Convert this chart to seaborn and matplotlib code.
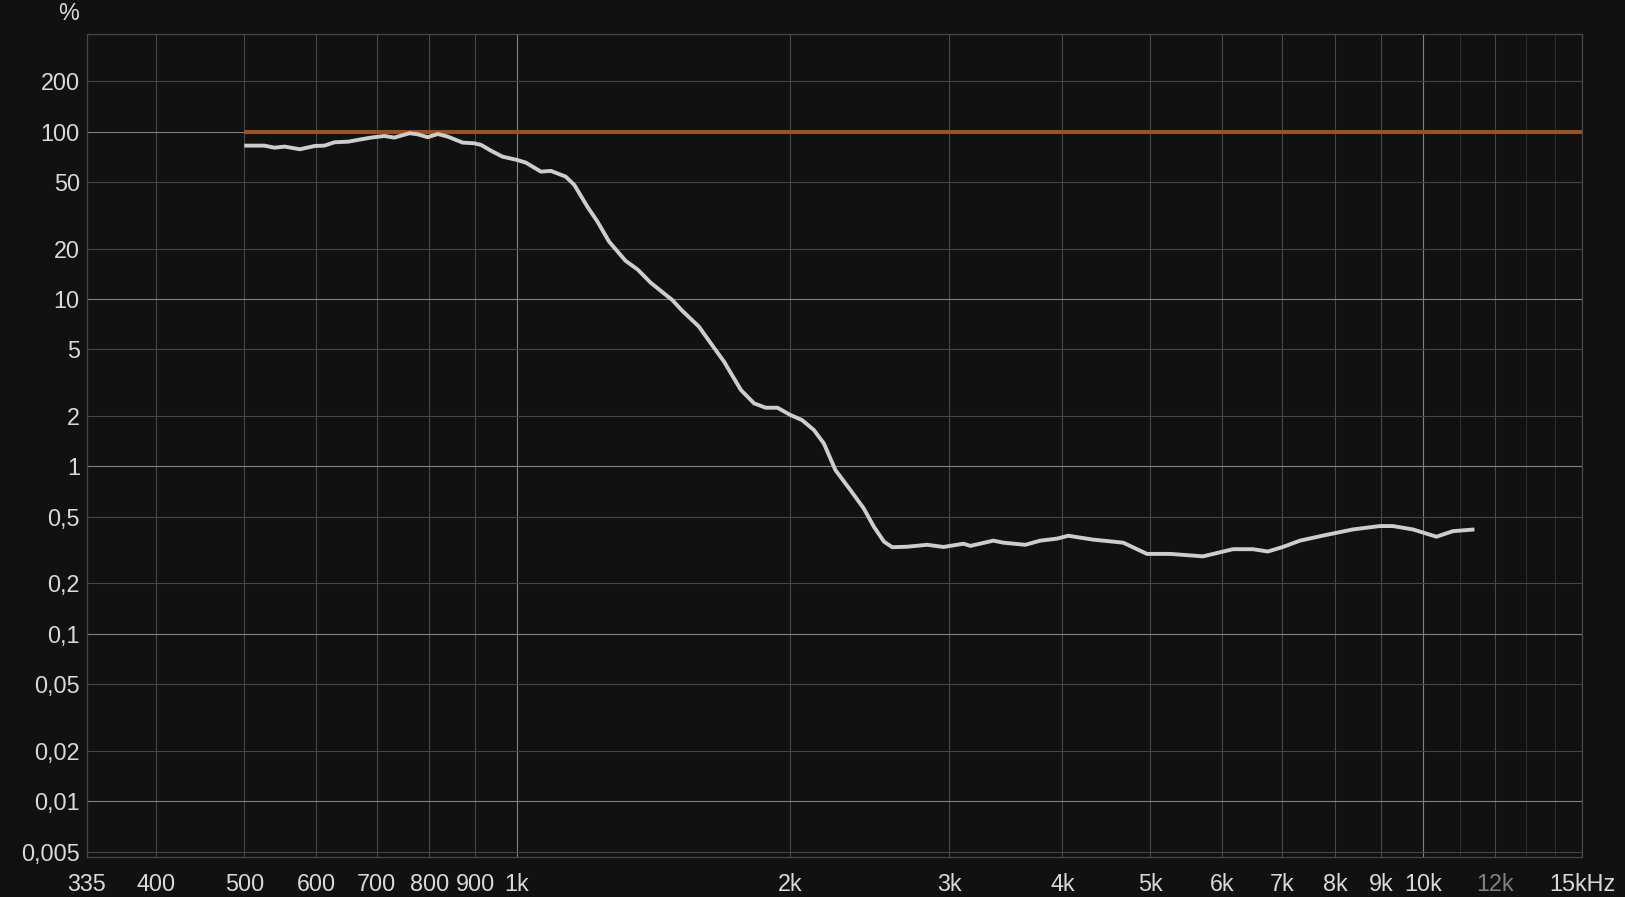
import matplotlib
matplotlib.use("Agg")
import matplotlib.pyplot as plt
from matplotlib.ticker import NullLocator, FixedLocator, NullFormatter
import seaborn as sns
import pandas as pd

# ---- data ----
freq_hz = [500, 526, 540, 554, 576, 598, 613, 629, 651, 667,
           690, 714, 732, 761, 777, 797, 818, 839, 871, 897,
           913, 936, 964, 1000, 1023, 1063, 1090, 1132, 1157, 1196,
           1227, 1264, 1318, 1359, 1405, 1453, 1484, 1522, 1588, 1637,
           1693, 1767, 1827, 1882, 1939, 2003, 2064, 2127, 2182, 2247,
           2334, 2414, 2477, 2542, 2596, 2695, 2837, 2957, 3111, 3167,
           3357, 3443, 3641, 3782, 3946, 4061, 4327, 4670, 4960, 5262,
           5720, 6172, 6494, 6746, 7008, 7318, 7832, 8372, 8966, 9266,
           9750, 10354, 10793, 11403]
percent = [82.4, 82.4, 80.1, 81.3, 78.4, 82.0, 82.4, 86.3, 87.0, 89.1,
           92.0, 94.1, 92.0, 97.7, 96.3, 92.5, 96.7, 93.2, 85.9, 85.1,
           83.2, 76.9, 70.8, 67.7, 65.2, 57.6, 58.2, 53.8, 48.0, 35.6,
           29.0, 22.0, 16.9, 15.0, 12.5, 10.8, 9.86, 8.51, 6.84, 5.43,
           4.22, 2.86, 2.38, 2.24, 2.24, 2.03, 1.89, 1.65, 1.37, 0.95,
           0.722, 0.562, 0.437, 0.355, 0.329, 0.331, 0.34, 0.33, 0.345, 0.335,
           0.36, 0.35, 0.34, 0.36, 0.37, 0.385, 0.365, 0.35, 0.30, 0.30,
           0.29, 0.32, 0.32, 0.31, 0.33, 0.36, 0.39, 0.42, 0.44, 0.44,
           0.42, 0.38, 0.41, 0.42]
ref_freq = [500, 15000]
ref_percent = [100, 100]

x_ticks = [335, 400, 500, 600, 700, 800, 900, 1000, 2000, 3000, 4000, 5000,
           6000, 7000, 8000, 9000, 10000, 12000, 15000]
x_labels = ["335", "400", "500", "600", "700", "800", "900", "1k", "2k", "3k",
            "4k", "5k", "6k", "7k", "8k", "9k", "10k", "12k", "15kHz"]
x_minor = [11000, 13000, 14000]
y_ticks = [0.005, 0.01, 0.02, 0.05, 0.1, 0.2, 0.5, 1, 2, 5, 10, 20, 50, 100, 200]
y_labels = ["0,005", "0,01", "0,02", "0,05", "0,1", "0,2", "0,5", "1", "2", "5",
            "10", "20", "50", "100", "200"]

BG = "#111111"
TXT = "#d9d9d9"
GRID = "#474747"
GRID_BRIGHT = "#828282"
GRID_DIM = "#2c2c2c"

sns.set_theme(style="dark", rc={
    "figure.facecolor": BG, "axes.facecolor": BG, "savefig.facecolor": BG,
    "axes.edgecolor": GRID, "text.color": TXT,
    "xtick.color": TXT, "ytick.color": TXT,
})
plt.rcParams["font.family"] = ["Liberation Sans", "DejaVu Sans"]

fig = plt.figure(figsize=(16.25, 8.97), dpi=100)
ax = fig.add_axes([86.7 / 1625, 1 - 857 / 897, (1582.3 - 86.7) / 1625, (857 - 34.3) / 897])

df = pd.DataFrame({"freq": freq_hz, "pct": percent})
ref = pd.DataFrame({"freq": ref_freq, "pct": ref_percent})
sns.lineplot(data=ref, x="freq", y="pct", ax=ax, color="#9a5120", linewidth=2.9,
             zorder=3, solid_capstyle="butt")
sns.lineplot(data=df, x="freq", y="pct", ax=ax, color="#cdcdcd", linewidth=2.8,
             zorder=4, solid_joinstyle="round", solid_capstyle="butt")

ax.set_xscale("log")
ax.set_yscale("log")
ax.set_xlim(335, 15000)
ax.set_ylim(0.00464, 381)

ax.set_xticks(x_ticks)
ax.set_xticklabels(x_labels)
ax.xaxis.set_minor_locator(FixedLocator(x_minor))
ax.xaxis.set_minor_formatter(NullFormatter())
ax.set_yticks(y_ticks)
ax.set_yticklabels(y_labels)
ax.yaxis.set_minor_locator(NullLocator())
ax.yaxis.set_minor_formatter(NullFormatter())

ax.set_xlabel("")
ax.set_ylabel("")
ax.tick_params(axis="both", which="both", length=0, labelsize=16.8, colors=TXT)
ax.tick_params(axis="x", pad=11.5)
ax.tick_params(axis="y", pad=5)

ax.grid(True, which="major", color=GRID, linewidth=0.8)
ax.grid(True, which="minor", axis="x", color=GRID_DIM, linewidth=0.8)
ax.set_axisbelow(True)

for tick_val, gl in zip(x_ticks, ax.xaxis.get_gridlines()):
    if tick_val in (1000, 10000):
        gl.set_color(GRID_BRIGHT)
for tick_val, gl in zip(y_ticks, ax.yaxis.get_gridlines()):
    if tick_val in (100, 10, 1, 0.1, 0.01):
        gl.set_color(GRID_BRIGHT)

for lab in ax.get_xticklabels():
    if lab.get_text() == "12k":
        lab.set_color("#808080")

for sp in ax.spines.values():
    sp.set_color(GRID)
    sp.set_linewidth(0.9)

fig.text(69 / 1625, 1 - 14 / 897, "%", ha="center", va="center", fontsize=16.8, color=TXT)

fig.savefig("out.png", dpi=100, facecolor=BG)
